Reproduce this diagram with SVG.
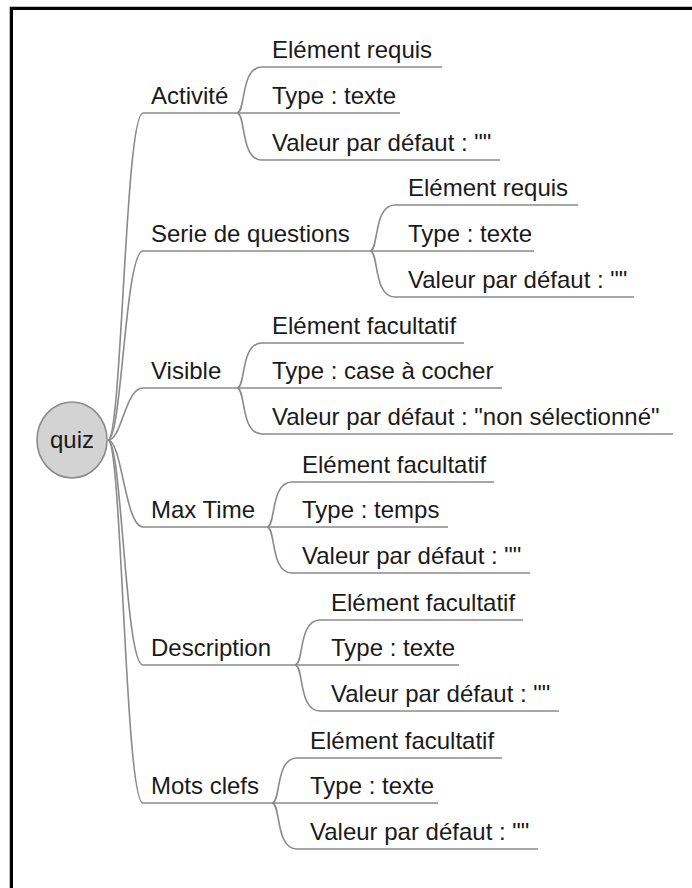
<svg xmlns="http://www.w3.org/2000/svg" width="692" height="888" viewBox="0 0 692 888">
<style>
.ln{fill:none;stroke:#8a8a8a;stroke-width:1.6}
.t{font-family:"Liberation Sans",Arial,sans-serif;font-size:24px;fill:#1a1a1a}
.frame{fill:#000}
</style>
<rect width="692" height="888" fill="#fff"/>
<g id="frame">
<rect x="9" y="6" width="683" height="1" fill="#c0c0c0"/>
<rect x="9" y="6" width="1" height="882" fill="#c0c0c0"/>
<rect class="frame" x="10" y="7" width="682" height="3"/>
<rect class="frame" x="10" y="7" width="3" height="881"/>
</g>
<g id="connectors">
<!-- trunk -->
<path class="ln" d="M108,440 C122,440 125,113 143,113 H237"/>
<path class="ln" d="M108,440 C122,440 125,251 143,251 H370"/>
<path class="ln" d="M108,440 C122,440 125,388 143,388 H237"/>
<path class="ln" d="M108,440 C122,440 125,527 143,527 H267"/>
<path class="ln" d="M108,440 C122,440 125,665 143,665 H295"/>
<path class="ln" d="M108,440 C122,440 125,803 143,803 H272"/>
<!-- Activité -->
<path class="ln" d="M237,113 C246,113 240,67 262,67 H442"/>
<path class="ln" d="M237,113 H400"/>
<path class="ln" d="M237,113 C246,113 240,160 262,160 H500"/>
<!-- Serie -->
<path class="ln" d="M370,251 C379,251 373,205 395,205 H578"/>
<path class="ln" d="M370,251 H534"/>
<path class="ln" d="M370,251 C379,251 373,297 395,297 H634"/>
<!-- Visible -->
<path class="ln" d="M237,388 C246,388 240,343 262,343 H464"/>
<path class="ln" d="M237,388 H502"/>
<path class="ln" d="M237,388 C246,388 240,434 262,434 H673"/>
<!-- Max Time -->
<path class="ln" d="M267,527 C276,527 270,482 292,482 H494"/>
<path class="ln" d="M267,527 H448"/>
<path class="ln" d="M267,527 C276,527 270,573 292,573 H530"/>
<!-- Description -->
<path class="ln" d="M295,665 C304,665 298,620 320,620 H523"/>
<path class="ln" d="M295,665 H459"/>
<path class="ln" d="M295,665 C304,665 298,711 320,711 H559"/>
<!-- Mots clefs -->
<path class="ln" d="M272,803 C281,803 275,758 297,758 H502"/>
<path class="ln" d="M272,803 H438"/>
<path class="ln" d="M272,803 C281,803 275,849 297,849 H538"/>
</g>
<g id="quiz">
<ellipse cx="72" cy="440" rx="35" ry="38" fill="#d3d3d3" stroke="#8a8a8a" stroke-width="1.6"/>
<text class="t" x="72" y="448" text-anchor="middle">quiz</text>
</g>
<g id="activite"><text class="t" x="151" y="104">Activité</text></g>
<g id="activite-requis"><text class="t" x="272" y="58">Elément requis</text></g>
<g id="activite-type"><text class="t" x="272" y="104">Type : texte</text></g>
<g id="activite-valeur"><text class="t" x="272" y="151">Valeur par défaut : ""</text></g>

<g id="serie"><text class="t" x="151" y="242">Serie de questions</text></g>
<g id="serie-requis"><text class="t" x="408" y="196">Elément requis</text></g>
<g id="serie-type"><text class="t" x="408" y="242">Type : texte</text></g>
<g id="serie-valeur"><text class="t" x="408" y="288">Valeur par défaut : ""</text></g>

<g id="visible"><text class="t" x="151" y="379">Visible</text></g>
<g id="visible-facultatif"><text class="t" x="272" y="334">Elément facultatif</text></g>
<g id="visible-type"><text class="t" x="272" y="379">Type : case à cocher</text></g>
<g id="visible-valeur"><text class="t" x="272" y="425">Valeur par défaut : "non sélectionné"</text></g>

<g id="maxtime"><text class="t" x="151" y="518">Max Time</text></g>
<g id="maxtime-facultatif"><text class="t" x="302" y="473">Elément facultatif</text></g>
<g id="maxtime-type"><text class="t" x="302" y="518">Type : temps</text></g>
<g id="maxtime-valeur"><text class="t" x="302" y="564">Valeur par défaut : ""</text></g>

<g id="description"><text class="t" x="151" y="656">Description</text></g>
<g id="description-facultatif"><text class="t" x="331" y="611">Elément facultatif</text></g>
<g id="description-type"><text class="t" x="331" y="656">Type : texte</text></g>
<g id="description-valeur"><text class="t" x="331" y="702">Valeur par défaut : ""</text></g>

<g id="motsclefs"><text class="t" x="151" y="794">Mots clefs</text></g>
<g id="motsclefs-facultatif"><text class="t" x="310" y="749">Elément facultatif</text></g>
<g id="motsclefs-type"><text class="t" x="310" y="794">Type : texte</text></g>
<g id="motsclefs-valeur"><text class="t" x="310" y="840">Valeur par défaut : ""</text></g>
</svg>
